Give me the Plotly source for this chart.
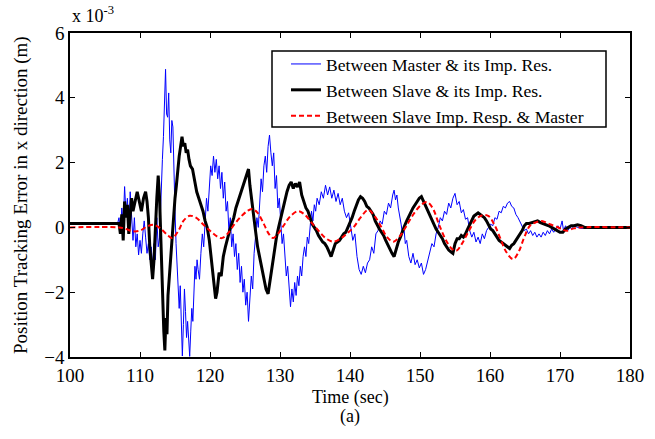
import plotly.graph_objects as go

# ---------------- data (values in units of 1e-3 m) ----------------
blue_t = [100, 106.8, 107.0, 107.2, 107.4, 107.6, 107.8, 108.0, 108.2, 108.4, 108.6, 108.8,
          109.0, 109.2, 109.4, 109.6, 109.8, 110.0, 110.2, 110.4, 110.6, 110.8, 111.0, 111.2,
          111.4, 111.6, 111.8, 112.0, 112.2, 112.4, 112.6, 112.8, 113.0, 113.2, 113.35, 113.5,
          113.65, 113.8, 113.95, 114.1, 114.25, 114.4, 114.55, 114.7, 114.85, 115.0, 115.15,
          115.3, 115.45, 115.6, 115.75, 115.9, 116.05, 116.2, 116.35, 116.5, 116.65, 116.8,
          116.95, 117.1, 117.25, 117.4, 117.55, 117.7, 117.85, 118.0, 118.15, 118.3, 118.5,
          118.7, 118.9, 119.1, 119.3, 119.5, 119.7, 119.9, 120.1, 120.3, 120.5, 120.7, 120.9,
          121.1, 121.3, 121.5, 121.7, 121.9, 122.1, 122.3, 122.5, 122.7, 122.9, 123.1, 123.3,
          123.5, 123.7, 123.9, 124.1, 124.3, 124.5, 124.7, 124.9, 125.1, 125.3, 125.5, 125.7,
          125.9, 126.1, 126.3, 126.5, 126.7, 126.9, 127.1, 127.3, 127.5, 127.7, 127.9, 128.1,
          128.3, 128.5, 128.7, 128.9, 129.1, 129.3, 129.5, 129.7, 129.9, 130.1, 130.3, 130.5,
          130.7, 130.9, 131.1, 131.3, 131.5, 131.7, 131.9, 132.1, 132.3, 132.5, 132.7, 132.9,
          133.1, 133.3, 133.5, 133.7, 133.9, 134.1, 134.3, 134.5, 134.7, 134.9, 135.1, 135.3,
          135.6, 135.9, 136.2, 136.5, 136.8, 137.1, 137.4, 137.7, 138.0, 138.3, 138.6, 138.9,
          139.2, 139.5, 139.8, 140.1, 140.4, 140.7, 141.0, 141.3, 141.6, 141.9, 142.2, 142.5,
          142.8, 143.1, 143.4, 143.7, 144.0, 144.3, 144.6, 144.9, 145.2, 145.5, 145.8, 146.1,
          146.3, 146.5, 146.7, 146.9, 147.1, 147.3, 147.5, 147.7, 147.9, 148.1, 148.4, 148.7,
          149.0, 149.3, 149.6, 149.9, 150.2, 150.5, 150.8, 151.1, 151.4, 151.7, 152.0, 152.3,
          152.6, 152.9, 153.2, 153.5, 153.8, 154.1, 154.4, 154.7, 155.0, 155.3, 155.6, 155.9,
          156.2, 156.5, 156.8, 157.1, 157.4, 157.7, 158.0, 158.3, 158.6, 158.9, 159.2, 159.5,
          159.8, 160.1, 160.4, 160.7, 161.0, 161.3, 161.6, 161.9, 162.2, 162.5, 162.8, 163.1,
          163.4, 163.7, 164.0, 164.3, 164.6, 164.9, 165.2, 165.5, 165.8, 166.1, 166.4, 166.7,
          167.0, 167.3, 167.6, 167.9, 168.2, 168.5, 168.8, 169.1, 169.4, 169.7, 170.0, 170.3,
          170.5, 170.8, 171.1, 171.4, 171.7, 172.0, 172.5, 173.0, 180]
blue_v = [0.12, 0.12, 0.3, -0.2, 0.6, 0.1, 1.26, 0.4, 0.9, -0.1, 1.1, 0.2,
          -0.4, 0.3, -0.6, -0.2, -0.85, -0.4, -0.8, -0.2, 0.2, -0.3, -0.8, -0.5,
          -1.0, -0.6, -1.25, -0.5, -1.0, 0.3, -0.6, -0.3, 1.2, 2.1, 2.8, 3.9,
          4.88, 3.5, 3.4, 4.15, 2.7, 2.3, 3.3, 3.1, 1.3, 0.5, -0.5,
          -1.1, -2.0, -2.5, -1.8, -3.1, -3.97, -3.0, -1.9, -2.6, -3.4, -2.9,
          -3.7, -3.98, -3.2, -2.5, -2.9, -1.8, -1.2, -1.6, -1.0, -1.3, -1.6,
          -0.8, -0.2, -0.6, 0.3, 0.9, 0.5, 1.4, 1.9, 1.6, 2.2, 1.7, 2.1,
          1.5, 1.9, 1.2, 1.7, 0.9, 1.4, 0.5, 0.8, -0.1, 0.3, -0.6, -0.2,
          -0.9, -0.5, -1.3, -0.8, -1.7, -1.2, -2.0, -1.6, -2.4, -2.0, -2.9, -2.3,
          -1.5, -1.9, -0.8, -0.3, 0.3, 0.0, 0.9, 1.5, 1.1, 1.9, 2.2, 1.7,
          2.5, 2.85, 2.3, 1.9, 2.3, 1.2, 1.6, 0.6, 0.9, 0.1, -0.5, -0.2,
          -1.0, -1.5, -1.2, -2.0, -2.45, -1.9, -2.3, -1.7, -2.1, -1.5, -1.8, -1.2,
          -1.5, -0.9, -0.6, -0.9, -0.3, -0.5, 0.1, 0.5, 0.2, 0.7, 0.5, 0.9,
          0.7, 1.1, 0.9, 1.3, 1.0, 1.25, 0.9, 1.15, 0.8, 1.05, 0.7, 0.9,
          0.5, 0.3, 0.45, 0.0, -0.4, -0.2, -0.9, -1.3, -1.45, -1.2, -1.4, -1.1,
          -1.0, -0.6, -0.8, -0.2, -0.1, 0.2, 0.1, 0.5, 0.4, 0.75, 0.6, 1.0,
          1.15, 0.85, 1.0, 0.6, 0.4, 0.1, -0.2, 0.0, -0.5, -0.4, -0.9, -1.1,
          -0.8, -1.15, -1.0, -1.25, -1.1, -1.45, -1.3, -1.0, -0.8, -0.5, -0.6, -0.2,
          0.0, 0.3, 0.2, 0.5, 0.4, 0.75, 0.6, 0.9, 1.05, 0.7, 0.8, 0.45,
          0.55, 0.25, 0.3, -0.1, -0.3, -0.15, -0.45, -0.3, -0.5, -0.2, -0.35, -0.1,
          0.0, 0.1, 0.05, 0.3, 0.25, 0.5, 0.45, 0.65, 0.6, 0.75, 0.8, 0.65,
          0.6, 0.4, 0.3, 0.15, 0.05, -0.1, -0.05, -0.2, -0.1, -0.25, -0.15, -0.3,
          -0.2, -0.3, -0.15, -0.25, -0.1, -0.2, -0.05, -0.15, -0.05, 0.05, -0.05, 0.2,
          -0.1, 0.05, -0.1, 0.0, -0.05, 0.05, 0.0, -0.03, 0.0]

black_t = [100, 107.0, 107.2, 107.4, 107.6, 107.8, 108.0, 108.2, 108.4, 108.6, 108.8, 109.0,
           109.3, 109.6, 109.9, 110.2, 110.5, 110.8, 111.0, 111.2, 111.4, 111.6, 111.8, 112.0,
           112.2, 112.4, 112.6, 112.8, 113.0, 113.2, 113.4, 113.55, 113.7, 113.85, 114.0,
           114.2, 114.4, 114.6, 114.8, 115.0, 115.2, 115.4, 115.6, 115.8, 116.0, 116.2, 116.4,
           116.6, 116.8, 117.0, 117.2, 117.5, 117.8, 118.1, 118.4, 118.7, 119.0, 119.3, 119.6,
           119.9, 120.2, 120.5, 120.8, 121.0, 121.3, 121.6, 121.9, 122.2, 122.5, 122.8, 123.1,
           123.4, 123.7, 124.0, 124.3, 124.6, 124.9, 125.2, 125.5, 125.7, 125.9, 126.2, 126.5,
           126.8, 127.1, 127.4, 127.7, 128.0, 128.3, 128.6, 128.9, 129.2, 129.5, 129.8, 130.1,
           130.4, 130.7, 131.0, 131.3, 131.6, 131.9, 132.2, 132.5, 132.8, 133.1, 133.4, 133.7,
           134.0, 134.3, 134.6, 134.9, 135.2, 135.5, 135.8, 136.1, 136.4, 136.7, 137.0, 137.3,
           137.6, 137.9, 138.2, 138.5, 138.8, 139.1, 139.4, 139.7, 140.0, 140.3, 140.6, 140.9,
           141.2, 141.5, 141.8, 142.1, 142.4, 142.7, 143.0, 143.3, 143.6, 143.9, 144.2, 144.5,
           144.8, 145.1, 145.4, 145.7, 146.0, 146.3, 146.6, 146.9, 147.2, 147.5, 147.8, 148.1,
           148.4, 148.7, 149.0, 149.3, 149.6, 149.9, 150.2, 150.5, 150.8, 151.1, 151.4, 151.7,
           152.0, 152.3, 152.6, 152.9, 153.2, 153.5, 153.8, 154.1, 154.4, 154.7, 155.0, 155.3,
           155.6, 155.9, 156.2, 156.5, 156.8, 157.1, 157.4, 157.7, 158.0, 158.3, 158.6, 158.9,
           159.2, 159.5, 159.8, 160.1, 160.4, 160.7, 161.0, 161.3, 161.6, 161.9, 162.2, 162.5,
           162.8, 163.1, 163.4, 163.7, 164.0, 164.3, 164.6, 164.9, 165.2, 165.6, 166.0, 166.4,
           166.8, 167.2, 167.6, 168.0, 168.4, 168.8, 169.2, 169.6, 170.0, 170.4, 170.8, 171.2,
           171.6, 172.0, 172.5, 173.0, 173.5, 180]
black_v = [0.12, 0.12, -0.2, 0.4, -0.4, 0.8, 0.3, 0.7, -0.2, 0.5, 0.9, 0.5,
           0.8, 1.1, 0.8, 0.5, 0.9, 1.1, 0.8, 0.3, -0.6, -1.0, -1.6, -1.0,
           0.1, 0.9, 1.6, 0.9, -0.5, -2.0, -3.2, -3.8, -2.8, -3.3, -2.1,
           -1.5, -0.9, -0.1, 0.4, 0.9, 1.3, 1.8, 2.2, 2.5, 2.8, 2.5, 2.6,
           2.3, 2.4, 2.1, 1.9, 1.8, 1.4, 1.1, 0.9, 0.7, 0.5, 0.2, 0.0,
           -0.4, -1.0, -1.6, -2.2, -2.0, -1.4, -1.5, -0.9, -0.6, -0.3, -0.1, 0.1,
           0.3, 0.6, 0.8, 1.0, 1.2, 1.4, 1.6, 1.8, 1.3, 0.9, 0.5, -0.1,
           -0.6, -0.9, -1.3, -1.6, -1.9, -2.05, -1.6, -1.1, -0.7, -0.3, 0.0, 0.3,
           0.6, 0.9, 1.1, 1.3, 1.4, 1.2, 1.35, 1.25, 1.4, 1.0, 0.8, 0.6,
           0.5, 0.3, 0.1, 0.0, -0.1, -0.25, -0.35, -0.45, -0.5, -0.6, -0.75, -0.9,
           -0.7, -0.5, -0.45, -0.4, -0.3, -0.2, -0.15, 0.0, 0.1, 0.3, 0.5, 0.7,
           0.85, 0.95, 0.9, 0.8, 0.65, 0.6, 0.5, 0.4, 0.2, 0.05, -0.05, -0.15,
           -0.25, -0.4, -0.55, -0.7, -0.8, -0.9, -0.65, -0.45, -0.3, -0.1, 0.05, 0.2,
           0.35, 0.5, 0.6, 0.7, 0.8, 0.9, 0.95, 0.8, 0.65, 0.5, 0.35, 0.2,
           0.05, -0.05, -0.15, -0.25, -0.35, -0.5, -0.6, -0.7, -0.75, -0.8, -0.5, -0.35,
           -0.35, -0.25, -0.3, -0.2, -0.05, 0.1, 0.25, 0.35, 0.4, 0.45, 0.4, 0.35,
           0.3, 0.2, 0.05, -0.05, -0.1, -0.2, -0.3, -0.4, -0.45, -0.5, -0.55, -0.6,
           -0.65, -0.55, -0.5, -0.4, -0.3, -0.2, -0.1, 0.05, 0.12, 0.12, 0.15, 0.18,
           0.2, 0.15, 0.12, 0.1, 0.05, 0.0, -0.05, -0.1, -0.15, -0.15, -0.05, 0.0,
           0.05, 0.05, 0.08, 0.05, 0.0, 0.0]

red_t = [100, 107, 108, 109, 110, 111, 112, 113, 114, 114.6, 115.5, 116.2, 117.1, 118, 119,
         120, 121, 121.7, 122.5, 123.5, 124.5, 125.3, 126, 126.8, 127.7, 128.4, 129, 129.7,
         130.5, 131.5, 132.6, 133.5, 134.5, 135.5, 136.5, 137.6, 138.6, 139.5, 140.5, 141.5,
         142.6, 143.5, 144.5, 145.3, 146.2, 147.2, 148.2, 149.2, 150.2, 151, 151.8, 152.7,
         153.6, 154.5, 155.2, 156, 157, 158, 159, 159.8, 160.7, 161.5, 162.3, 163.3, 164.1,
         164.9, 165.7, 166.5, 167.4, 168.3, 169.5, 170.5, 171, 172, 173, 180]
red_v = [0, 0, -0.05, -0.12, -0.1, 0.03, 0.08, -0.05, -0.25, -0.33, -0.1, 0.2, 0.36, 0.3, 0.1,
         -0.1, -0.28, -0.33, -0.2, 0.1, 0.35, 0.5, 0.57, 0.45, 0.1, -0.2, -0.33, -0.2,
         0.05, 0.35, 0.5, 0.4, 0.15, -0.1, -0.33, -0.44, -0.35, -0.2, 0.0, 0.3,
         0.54, 0.35, 0.0, -0.3, -0.44, -0.25, 0.1, 0.45, 0.7, 0.78, 0.6, 0.1,
         -0.35, -0.65, -0.72, -0.5, -0.1, 0.25, 0.38, 0.35, 0.05, -0.35, -0.75, -0.98, -0.75,
         -0.3, 0.05, 0.15, 0.2, 0.12, 0.02, -0.08, -0.1, -0.03, 0, 0]

names = ["Between Master & its Imp. Res.",
         "Between Slave & its Imp. Res.",
         "Between Slave Imp. Resp. & Master"]

x_ticks = [100, 110, 120, 130, 140, 150, 160, 170, 180]
y_ticks = [-4, -2, 0, 2, 4, 6]

FONT = "Liberation Serif"

fig = go.Figure()
fig.add_trace(go.Scatter(x=blue_t, y=blue_v, mode="lines", name=names[0],
                         line=dict(color="#0000ff", width=1)))
fig.add_trace(go.Scatter(x=black_t, y=black_v, mode="lines", name=names[1],
                         line=dict(color="#000000", width=3)))
fig.add_trace(go.Scatter(x=red_t, y=red_v, mode="lines", name=names[2],
                         line=dict(color="#ff0000", width=2, dash="5px,3px", shape="spline")))

axis_common = dict(showline=True, linecolor="black", linewidth=1.5, mirror="ticks",
                   ticks="inside", ticklen=5, tickwidth=1, tickcolor="black",
                   showgrid=False, zeroline=False,
                   tickfont=dict(family=FONT, size=19, color="black"))

fig.update_layout(
    width=655, height=439,
    margin=dict(l=70, r=25, t=33, b=82),
    paper_bgcolor="white", plot_bgcolor="white",
    font=dict(family=FONT, color="black"),
    xaxis=dict(range=[100, 180], tickvals=x_ticks, **axis_common),
    yaxis=dict(range=[-4, 6], tickvals=y_ticks, **axis_common),
    legend=dict(x=(286 - 70) / 560, xanchor="left", y=(357 - 46) / 324, yanchor="top",
                bgcolor="rgba(0,0,0,0)", borderwidth=0,
                font=dict(family=FONT, size=17.6, color="black"),
                tracegroupgap=0),
    showlegend=True,
)

# legend frame (white box with black border)
fig.add_shape(type="rect", xref="paper", yref="paper",
              x0=(272 - 70) / 560, x1=(606 - 70) / 560,
              y0=(357 - 127) / 324, y1=(357 - 51) / 324,
              fillcolor="white", line=dict(color="black", width=1.5), layer="above")

fig.add_annotation(text="x 10<sup>-3</sup>", xref="paper", yref="paper",
                   x=0.0, y=1.015, xanchor="left", yanchor="bottom", showarrow=False,
                   font=dict(family=FONT, size=18, color="black"))
fig.add_annotation(text="Position Tracking Error in x direction (m)", xref="paper", yref="paper",
                   x=-0.0875, y=0.5, xanchor="center", yanchor="middle", textangle=-90,
                   showarrow=False, font=dict(family=FONT, size=19, color="black"))
fig.add_annotation(text="Time (sec)", xref="paper", yref="paper",
                   x=0.5, y=-0.124, xanchor="center", yanchor="middle", showarrow=False,
                   font=dict(family=FONT, size=18, color="black"))
fig.add_annotation(text="(a)", xref="paper", yref="paper",
                   x=0.5, y=-0.183, xanchor="center", yanchor="middle", showarrow=False,
                   font=dict(family=FONT, size=18, color="black"))

fig.write_html("out.html")
